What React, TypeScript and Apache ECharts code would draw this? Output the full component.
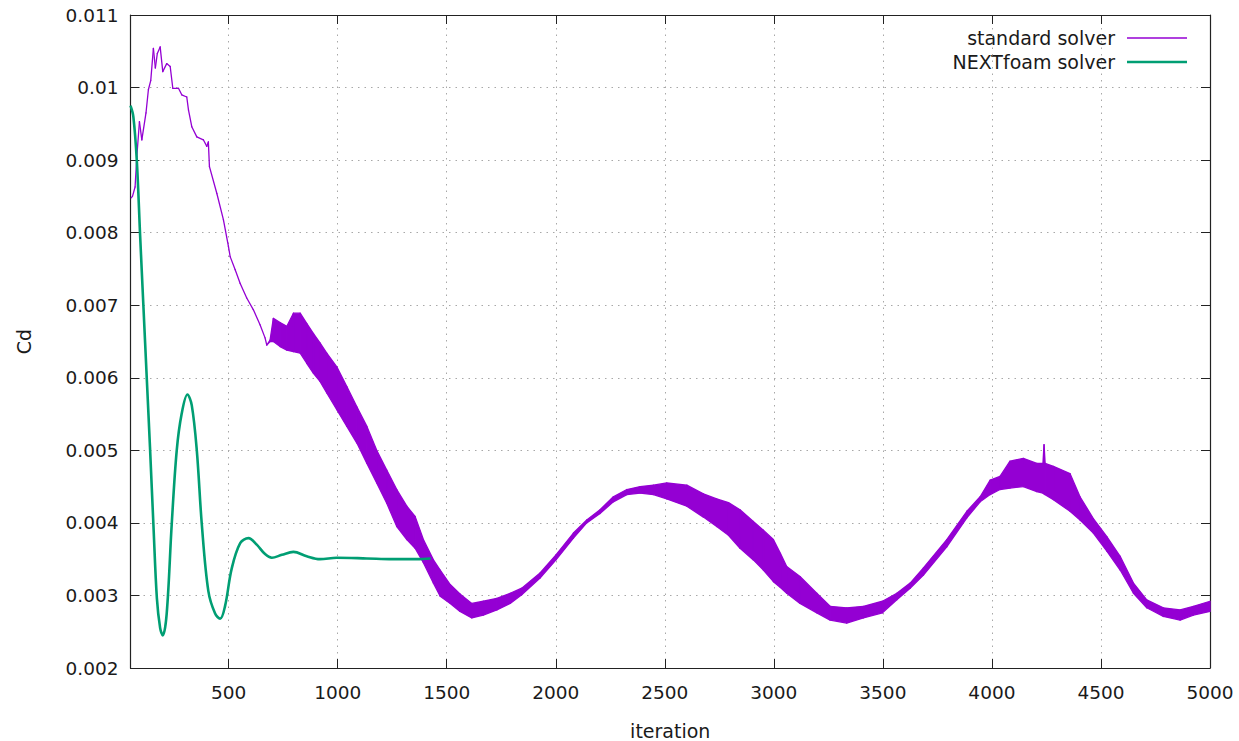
import React, { useEffect, useRef } from "react";
import * as echarts from "echarts";

// ---------- data ----------
// standard solver: upper / lower envelope of the oscillating Cd trace
const stdIter = [
  53, 59, 71, 79, 91, 102, 121, 132, 143, 155, 164, 173, 186, 198, 216, 232, 244, 270, 285, 308,
  316, 331, 354, 384, 400, 407, 412, 446, 476, 499, 507, 530, 553, 583, 613, 644, 667, 675, 690,
  705, 736, 767, 797, 828, 858, 889, 919, 950, 996, 1042, 1088, 1134, 1179, 1225, 1271, 1317,
  1355, 1393, 1439, 1470, 1516, 1561, 1615, 1668, 1730, 1791, 1844, 1928, 2001, 2081, 2142, 2203,
  2264, 2326, 2387, 2448, 2509, 2601, 2677, 2738, 2792, 2845, 2906, 2952, 2998, 3030, 3059, 3120,
  3197, 3258, 3334, 3411, 3498, 3564, 3625, 3686, 3793, 3885, 3946, 3992, 4037, 4083, 4144, 4206,
  4234, 4239, 4244, 4282, 4358, 4404, 4465, 4527, 4588, 4649, 4710, 4786, 4863, 4924, 5000,
];
const stdUpper = [
  0.00848, 0.0085, 0.00863, 0.00905, 0.00953, 0.00928, 0.00965, 0.00997, 0.0101, 0.01054, 0.01027,
  0.01047, 0.01056, 0.01022, 0.01033, 0.01029, 0.00999, 0.00999, 0.0099, 0.00987, 0.00969, 0.00946,
  0.00932, 0.00928, 0.00919, 0.00925, 0.00891, 0.00854, 0.00818, 0.00781, 0.00767, 0.00749, 0.0073,
  0.0071, 0.00694, 0.00673, 0.00655, 0.00645, 0.00652,
  0.00682, 0.00676, 0.00671, 0.00689, 0.00689, 0.00675, 0.00661, 0.00648, 0.00634, 0.00615, 0.00588,
  0.0056, 0.00533, 0.005, 0.00473, 0.00446, 0.00423, 0.00409, 0.00377, 0.00349, 0.00335, 0.00315,
  0.00302, 0.00289, 0.00292, 0.00296, 0.00303, 0.0031, 0.00331, 0.00356, 0.00386, 0.00404, 0.00418,
  0.00436, 0.00446, 0.0045, 0.00452, 0.00455, 0.00452, 0.00440, 0.00433, 0.00428, 0.00418, 0.00402,
  0.0039, 0.00377, 0.00358, 0.0034, 0.00326, 0.00303, 0.00285, 0.00283, 0.00285, 0.00292, 0.00303,
  0.00317, 0.00338, 0.00377, 0.00416, 0.00436, 0.00459, 0.00464, 0.00485, 0.00489, 0.00482, 0.00482,
  0.00508, 0.00482, 0.00478, 0.00468, 0.00436, 0.00406, 0.00381, 0.00354, 0.00317, 0.00294, 0.00283,
  0.0028, 0.00285, 0.00292,
];
const stdLower = [
  0.00848, 0.0085, 0.00863, 0.00905, 0.00953, 0.00928, 0.00965, 0.00997, 0.0101, 0.01054, 0.01027,
  0.01047, 0.01056, 0.01022, 0.01033, 0.01029, 0.00999, 0.00999, 0.0099, 0.00987, 0.00969, 0.00946,
  0.00932, 0.00928, 0.00919, 0.00925, 0.00891, 0.00854, 0.00818, 0.00781, 0.00767, 0.00749, 0.0073,
  0.0071, 0.00694, 0.00673, 0.00655, 0.00645, 0.0065,
  0.0065, 0.00643, 0.00638, 0.00636, 0.00634, 0.0062, 0.00606, 0.00595, 0.00579, 0.00556, 0.00533,
  0.0051, 0.00482, 0.00455, 0.00427, 0.00395, 0.00377, 0.00365, 0.00345, 0.00317, 0.00299, 0.00289,
  0.00278, 0.00269, 0.00273, 0.0028, 0.00289, 0.00301, 0.00324, 0.00349, 0.00379, 0.004, 0.00413,
  0.00429, 0.00439, 0.00441, 0.00439, 0.00433, 0.00423, 0.00408, 0.00395, 0.00383, 0.00365, 0.00349,
  0.00335, 0.00319, 0.00311, 0.00303, 0.00289, 0.00276, 0.00266, 0.00262, 0.00269, 0.00276, 0.00294,
  0.0031, 0.00328, 0.00367, 0.00407, 0.00429, 0.00439, 0.00446, 0.00448, 0.0045, 0.00443, 0.00441,
  0.0044, 0.00439, 0.00432, 0.00416, 0.00404, 0.00386, 0.00361, 0.00335, 0.00303, 0.00283, 0.00271,
  0.00266, 0.00273, 0.00278,
];

// NEXTfoam solver
const nfIter = [
  50, 63, 79, 94, 109, 125, 140, 155, 171, 186, 198, 216, 239, 262, 285, 311, 331, 354, 377, 407,
  438, 461, 484, 514, 553, 591, 629, 667, 698, 744, 797, 858, 919, 996, 1134, 1250, 1363, 1427,
];
const nfCd = [
  0.00975, 0.0096, 0.00899, 0.00797, 0.007, 0.00597, 0.005, 0.00398, 0.00296, 0.00255, 0.00245,
  0.00275, 0.00398, 0.005, 0.00551, 0.00577, 0.00562, 0.005, 0.00398, 0.00306, 0.00275, 0.00268,
  0.00286, 0.00337, 0.00372, 0.00379, 0.0037, 0.00357, 0.00352, 0.00356, 0.0036, 0.00354, 0.0035,
  0.00352, 0.00351, 0.0035, 0.0035, 0.00351,
];

const seriesNames = ["standard solver", "NEXTfoam solver"];
const xName = "iteration";
const yName = "Cd";

const PURPLE = "#9400d3";
const GREEN = "#009e73";
const FONT = "DejaVu Sans";
const TXT = "#1a1a1a";
const AXIS = "#222222";

export default function App() {
  const ref = useRef<HTMLDivElement>(null);

  useEffect(() => {
    document.body.style.margin = "0";
    if (!ref.current) return;
    const chart = echarts.init(ref.current, undefined, { renderer: "svg" });

    const bandData = stdIter.map((x, i) => [x, stdUpper[i], stdLower[i]]);
    const greenData = nfIter.map((x, i) => [x, nfCd[i]]);

    const gridLine = { show: true, lineStyle: { color: "#a8a8a8", type: [1.5, 5] as any, width: 1 } };
    const tick = { show: true, inside: true, length: 9, lineStyle: { color: AXIS, width: 1 } };
    const line = { show: true, onZero: false, lineStyle: { color: AXIS, width: 1.2 } };

    chart.setOption({
      animation: false,
      backgroundColor: "#ffffff",
      textStyle: { fontFamily: FONT, color: TXT },
      grid: { left: 130.5, right: 29, top: 15, bottom: 73, outerBoundsMode: "none" } as any,
      xAxis: [
        {
          type: "value",
          position: "bottom",
          min: 50,
          max: 5000,
          splitNumber: 10,
          name: xName,
          nameLocation: "middle",
          nameGap: 53,
          nameTextStyle: { fontFamily: FONT, fontSize: 19, color: TXT },
          axisLine: line,
          axisTick: tick,
          axisLabel: {
            showMinLabel: false,
            margin: 15,
            fontFamily: FONT,
            fontSize: 18.5,
            color: TXT,
            formatter: (v: number) => String(Math.round(v)),
          },
          splitLine: gridLine,
        },
        {
          type: "value",
          position: "top",
          min: 50,
          max: 5000,
          splitNumber: 10,
          axisLine: line,
          axisTick: tick,
          axisLabel: { show: false },
          splitLine: { show: false },
        },
      ],
      yAxis: [
        {
          type: "value",
          position: "left",
          min: 0.002,
          max: 0.011,
          interval: 0.001,
          name: yName,
          nameLocation: "middle",
          nameGap: 97,
          nameTextStyle: { fontFamily: FONT, fontSize: 19, color: TXT },
          axisLine: line,
          axisTick: tick,
          axisLabel: {
            margin: 12,
            fontFamily: FONT,
            fontSize: 18.5,
            color: TXT,
            formatter: (v: number) => String(parseFloat(v.toFixed(4))),
          },
          splitLine: gridLine,
        },
        {
          type: "value",
          position: "right",
          min: 0.002,
          max: 0.011,
          interval: 0.001,
          axisLine: line,
          axisTick: tick,
          axisLabel: { show: false },
          splitLine: { show: false },
        },
      ],
      series: [
        {
          name: seriesNames[0],
          type: "custom",
          xAxisIndex: 0,
          yAxisIndex: 0,
          data: bandData,
          encode: { x: 0, y: [1, 2] },
          z: 2,
          renderItem: (params: any, api: any) => {
            const i = params.dataIndex;
            if (i >= bandData.length - 1) return null;
            const a = bandData[i];
            const b = bandData[i + 1];
            const pts = [
              api.coord([a[0], a[1]]),
              api.coord([b[0], b[1]]),
              api.coord([b[0], b[2]]),
              api.coord([a[0], a[2]]),
            ];
            return {
              type: "polygon",
              shape: { points: pts },
              style: { fill: PURPLE, stroke: PURPLE, lineWidth: 1.3, lineJoin: "round" },
            };
          },
        },
        {
          name: seriesNames[1],
          type: "line",
          xAxisIndex: 0,
          yAxisIndex: 0,
          data: greenData,
          symbol: "none",
          smooth: 0.35,
          z: 3,
          lineStyle: { color: GREEN, width: 2.6 },
          itemStyle: { color: GREEN },
        },
      ],
      graphic: [
        {
          type: "text",
          right: 1239 - 1115,
          top: 28,
          style: { text: seriesNames[0], font: `19px "${FONT}"`, fill: TXT, textAlign: "right" },
        },
        {
          type: "line",
          shape: { x1: 1127, y1: 38, x2: 1187, y2: 38 },
          style: { stroke: PURPLE, lineWidth: 1.3 },
        },
        {
          type: "text",
          right: 1239 - 1115,
          top: 52,
          style: { text: seriesNames[1], font: `19px "${FONT}"`, fill: TXT, textAlign: "right" },
        },
        {
          type: "line",
          shape: { x1: 1127, y1: 62, x2: 1187, y2: 62 },
          style: { stroke: GREEN, lineWidth: 2.6 },
        },
      ],
    });

    return () => chart.dispose();
  }, []);

  return <div ref={ref} style={{ width: 1239, height: 741 }} />;
}
